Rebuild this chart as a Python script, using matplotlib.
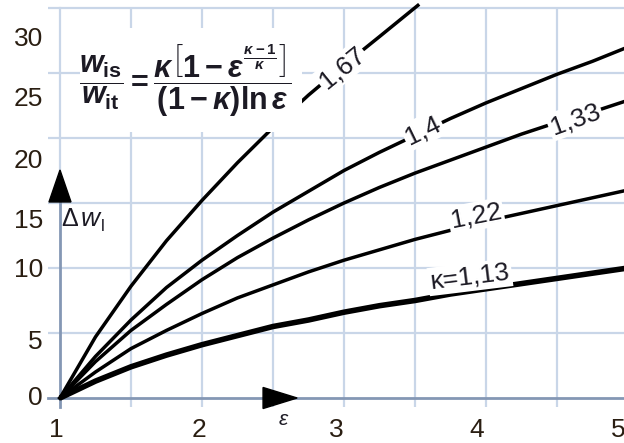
import matplotlib
matplotlib.use("Agg")
import matplotlib.pyplot as plt
from matplotlib.patches import Polygon, Rectangle

# Pressure ratio epsilon and relative extra work (percent) for each isentropic exponent
eps = [1.0, 1.25, 1.5, 1.75, 2.0, 2.25, 2.5, 2.75, 3.0, 3.25, 3.5, 3.75, 4.0, 4.25, 4.5, 4.75, 5.0]
dw_113 = [0, 1.3, 2.4, 3.3, 4.1, 4.8, 5.5, 6.0, 6.6, 7.1, 7.5, 8.0, 8.4, 8.8, 9.2, 9.6, 10.0]
dw_122 = [0, 2.0, 3.8, 5.2, 6.5, 7.7, 8.7, 9.7, 10.6, 11.4, 12.2, 12.9, 13.6, 14.2, 14.8, 15.4, 16.0]
dw_133 = [0, 2.8, 5.2, 7.2, 9.1, 10.8, 12.3, 13.7, 15.0, 16.2, 17.3, 18.3, 19.3, 20.3, 21.2, 22.0, 22.9]
dw_140 = [0, 3.2, 6.0, 8.5, 10.6, 12.5, 14.3, 15.9, 17.5, 18.9, 20.2, 21.5, 22.7, 23.8, 24.9, 25.9, 27.0]
eps_167 = [1.0, 1.25, 1.5, 1.75, 2.0, 2.25, 2.5, 2.75, 3.0, 3.25, 3.52]
dw_167 = [0, 4.7, 8.6, 12.1, 15.2, 18.1, 20.8, 23.3, 25.6, 27.8, 30.2]

y_tick_labels = ["0", "5", "10", "15", "20", "25", "30"]
x_tick_labels = ["1", "2", "3", "4", "5"]

plt.rcParams["mathtext.fontset"] = "custom"
plt.rcParams["mathtext.rm"] = "Liberation Sans:bold"
plt.rcParams["mathtext.it"] = "Liberation Sans:italic:bold"
plt.rcParams["mathtext.bf"] = "Liberation Sans:bold"
plt.rcParams["mathtext.sf"] = "Liberation Sans:bold"

FONT = "Liberation Sans"
GRID = "#c9d6e8"
AXIS = "#8497b4"
TXT = "#1c1a24"

fig = plt.figure(figsize=(6.24, 4.43), dpi=100)
ax = fig.add_axes([0, 0, 1, 1])
ax.set_xlim(0.5775, 4.9718)
ax.set_ylim(-3.4615, 30.615)
ax.axis("off")

# grid
x_left, y_bottom = 0.915, -0.7
for gx in [1.5, 2.0, 2.5, 3.0, 3.5, 4.0, 4.5, 5.0]:
    ax.plot([gx, gx], [y_bottom, 30], color=GRID, lw=1.6, zorder=1, solid_capstyle="butt")
for gy in [5, 10, 15, 20, 25, 30]:
    ax.plot([x_left, 5.2], [gy, gy], color=GRID, lw=1.6, zorder=1, solid_capstyle="butt")
ax.plot([1, 1], [15, 30], color=GRID, lw=1.6, zorder=1)

# axes with arrows
ax.plot([x_left, 5.2], [0, 0], color=AXIS, lw=2.0, zorder=2)
ax.plot([1, 1], [y_bottom, 15.1], color=AXIS, lw=2.0, zorder=2)
ax.add_patch(Polygon([[0.9225, 15.08], [1.0775, 15.08], [1.0, 17.54]],
                     closed=True, color="black", zorder=4))
ax.add_patch(Polygon([[2.43, -0.81], [2.43, 0.81], [2.67, 0.0]],
                     closed=True, color="black", zorder=4))

# curves
ax.plot(eps, dw_113, color="black", lw=4.0, zorder=3, solid_capstyle="butt")
ax.plot(eps, dw_122, color="black", lw=2.5, zorder=3)
ax.plot(eps, dw_133, color="black", lw=2.5, zorder=3)
ax.plot(eps, dw_140, color="black", lw=2.5, zorder=3)
ax.plot(eps_167, dw_167, color="black", lw=2.5, zorder=3)

# curve labels
lab_box = dict(facecolor="white", edgecolor="none", pad=1.5)
curve_labels = [
    ("1,67", 2.986, 25.38, 39),
    ("1,4", 3.556, 20.6, 26),
    ("1,33", 4.627, 21.46, 20),
    ("1,22", 3.93, 14.0, 11),
    ("κ=1,13", 3.887, 9.3, 7),
]
for txt, lx, ly, rot in curve_labels:
    ax.text(lx, ly, txt, fontsize=19, family=FONT, color=TXT, rotation=rot,
            rotation_mode="anchor", ha="center", va="center", bbox=lab_box, zorder=6)

# tick labels
y_label_pos = [0, 4.31, 9.85, 13.62, 18.23, 23.0, 27.6]
for t, py in zip(y_tick_labels, y_label_pos):
    ax.text(0.880, py, t, fontsize=19, family=FONT, color="#2a1e12",
            ha="right", va="center", zorder=6)
x_label_pos = [0.972, 1.979, 2.944, 3.937, 4.93]
for t, px in zip(x_tick_labels, x_label_pos):
    ax.text(px, -2.46, t, fontsize=19, family=FONT, color="#2a1e12",
            ha="center", va="center", zorder=6)

# axis titles
ax.text(1.01, 13.75, "Δ", fontsize=18, family=FONT, color=TXT,
        ha="left", va="center", zorder=6)
ax.text(1.145, 13.75, "w", fontsize=19, family=FONT, style="italic", color=TXT,
        ha="left", va="center", zorder=6)
ax.text(1.29, 13.2, "l", fontsize=12, family=FONT, color=TXT,
        ha="left", va="center", zorder=6)
ax.text(2.57, -1.65, "ε", fontsize=15, family=FONT, style="italic", color=TXT,
        ha="center", va="center", zorder=6)

# formula panel
ax.add_patch(Rectangle((1.141, 20.46), 1.563, 8.0, facecolor="white",
                       edgecolor="none", zorder=5))
formula = (r"$\dfrac{w_{\mathrm{is}}}{w_{\mathrm{it}}}="
           r"\dfrac{\kappa\left[1-\varepsilon^{\frac{\kappa-1}{\kappa}}\right]}"
           r"{(1-\kappa)\ln\varepsilon}$")
ax.text(1.884, 24.45, formula, fontsize=22, color=TXT, ha="center", va="center", zorder=6)

fig.savefig("out.png", dpi=100)
